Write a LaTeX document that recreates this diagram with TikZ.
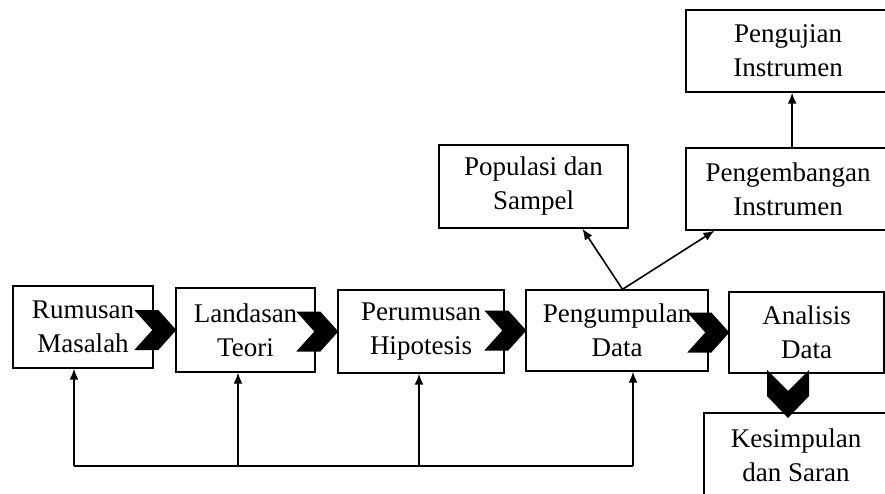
\documentclass[tikz,border=0pt]{standalone}
\usepackage{fontspec}
\setmainfont{Liberation Serif}
\usetikzlibrary{arrows.meta,calc}
\begin{document}
\begin{tikzpicture}[x=1pt,y=-1pt,
  box/.style={draw, line width=1.4pt, inner sep=0pt, align=center,
    font=\fontsize{27}{34}\selectfont},
  arr/.style={line width=1.6pt, -{Latex[length=11pt,width=9pt]}},
  fb/.style={line width=1.6pt}]
\clip (0,0) rectangle (885,493);
% boxes
\node[box, minimum width=140pt, minimum height=82pt] (rm) at (83,327) {Rumusan\\Masalah};
\node[box, minimum width=139pt, minimum height=84pt] (lt) at (245.5,330) {Landasan\\Teori};
\node[box, minimum width=166pt, minimum height=83pt] (ph) at (421,331.5) {Perumusan\\Hipotesis};
\node[box, minimum width=182pt, minimum height=81pt] (pd) at (617,330.5) {Pengumpulan\\Data};
\node[box, minimum width=155pt, minimum height=81pt] (ad) at (806.5,332.5) {Analisis\\Data};
\node[box, minimum width=184pt, minimum height=84pt] (ks) at (796,455) {Kesimpulan\\dan Saran};
\node[box, minimum width=189pt, minimum height=83pt] (ps) at (533.5,186.5) {Populasi dan\\Sampel};
\node[box, minimum width=204pt, minimum height=82pt] (pi) at (788,189) {Pengembangan\\Instrumen};
\node[box, minimum width=204pt, minimum height=82pt] (uji) at (788,51) {Pengujian\\Instrumen};
% chevrons (right-pointing)
\foreach \t in {lt,ph,pd,ad}{
  \fill ($(\t.west)+(-41,-20)$) -- ++(24,0) -- ($(\t.west)+(1,0)$)
     -- ($(\t.west)+(-17,20)$) -- ++(-24,0) -- ($(\t.west)+(-23,0)$) -- cycle;
}
% chevron (down-pointing)
\coordinate (dc) at (788,418);
\fill ($(dc)+(-21,-48)$) -- ($(dc)+(0,-27)$) -- ($(dc)+(21,-48)$)
   -- ($(dc)+(21,-22)$) -- (dc) -- ($(dc)+(-21,-22)$) -- cycle;
% feedback lines
\coordinate (f1) at (74,466);
\coordinate (f2) at (238,466);
\coordinate (f3) at (419,466);
\coordinate (f4) at (633,466);
\draw[fb] (f1) -- (f4);
\draw[arr] (f1) -- (f1 |- rm.south);
\draw[arr] (f2) -- (f2 |- lt.south);
\draw[arr] (f3) -- (f3 |- ph.south);
\draw[arr] (f4) -- (f4 |- pd.south);
% branch to sampling and instrument
\coordinate (sp) at ($(pd.north west)!0.53!(pd.north east)$);
\draw[arr] (sp) -- ($(ps.south west)!0.757!(ps.south east)$);
\draw[arr] (sp) -- ($(pi.south west)!0.142!(pi.south east)$);
\draw[arr] ($(pi.north west)!0.52!(pi.north east)$) -- ($(uji.south west)!0.52!(uji.south east)$);
\end{tikzpicture}
\end{document}
